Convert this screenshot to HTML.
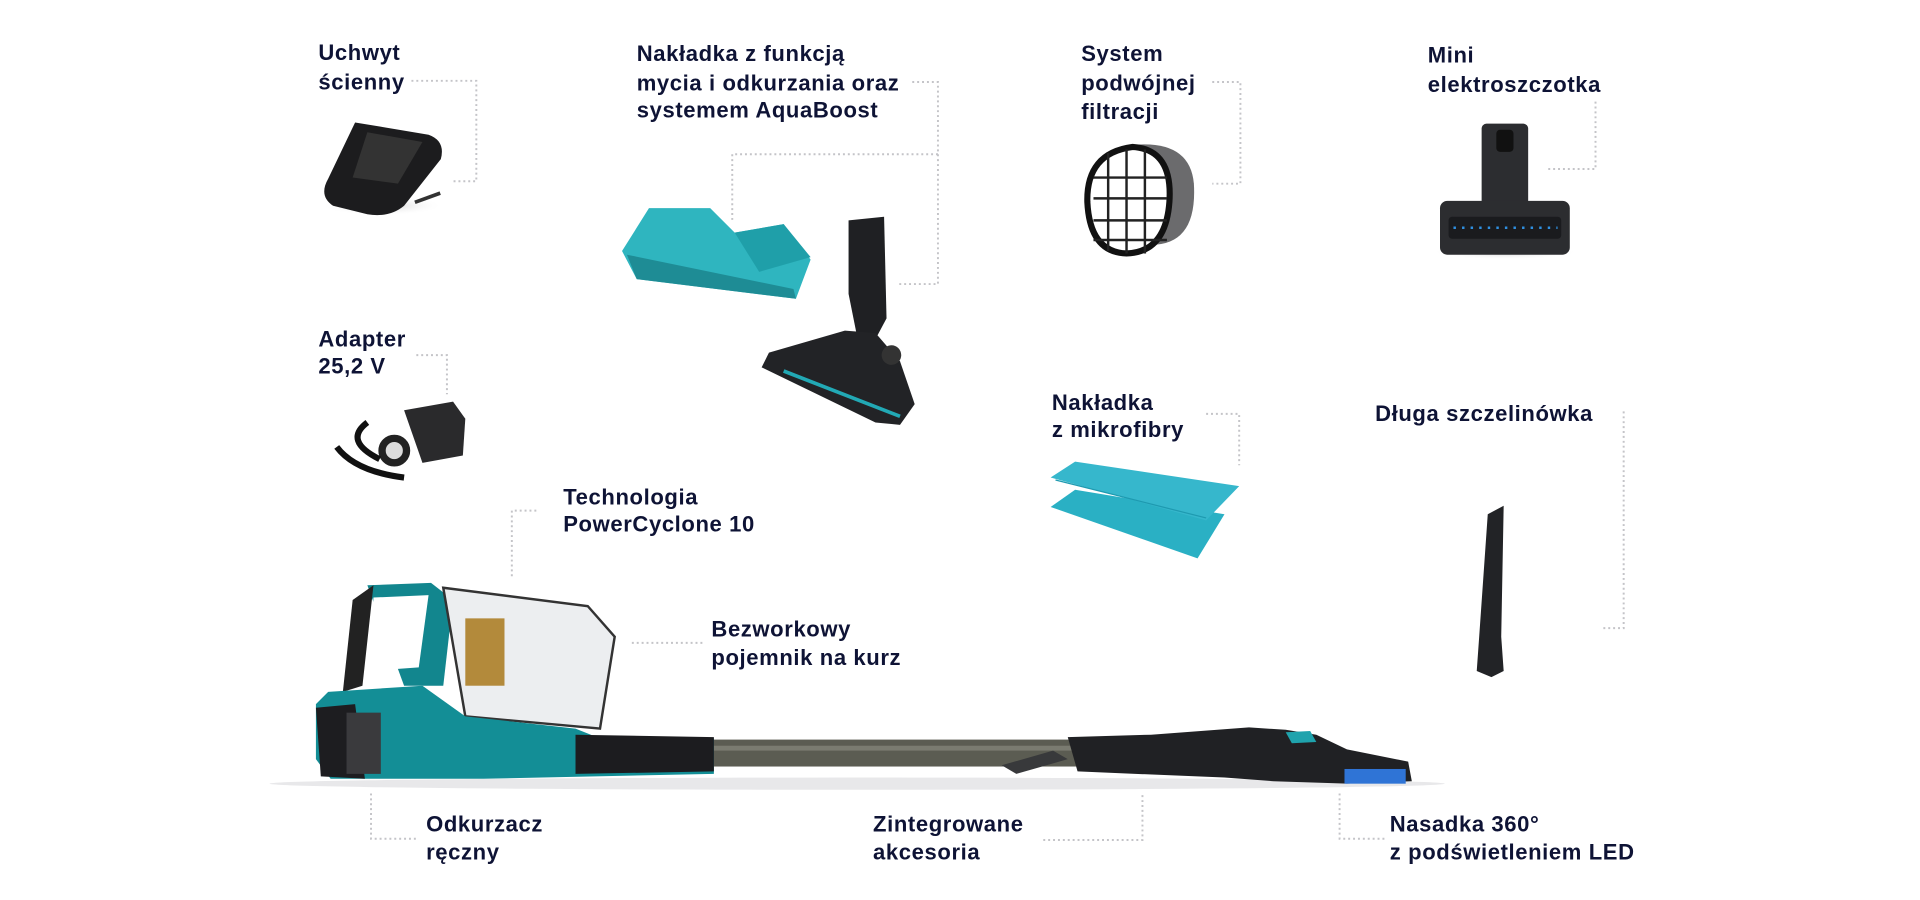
<!DOCTYPE html>
<html><head><meta charset="utf-8"><style>
html,body{margin:0;padding:0;background:#fff;width:1920px;height:900px;overflow:hidden}
svg{display:block}
text{font-family:"Liberation Sans",sans-serif;font-weight:bold;font-size:18px;letter-spacing:0.5px;fill:#0e1335}
.c{fill:none;stroke:#c4c4c8;stroke-width:1.6;stroke-dasharray:1.6 2.4}
</style></head><body>
<svg width="1920" height="900" viewBox="0 0 1568 735" xmlns="http://www.w3.org/2000/svg">
<defs>
<radialGradient id="sh" cx="50%" cy="50%" r="50%"><stop offset="0" stop-color="#ccc"/><stop offset="1" stop-color="#fff" stop-opacity="0"/></radialGradient>
</defs>
<!-- labels -->
<text x="260" y="49">Uchwyt</text><text x="260" y="73">ścienny</text>
<text x="520" y="50">Nakładka z funkcją</text><text x="520" y="74">mycia i odkurzania oraz</text><text x="520" y="96">systemem AquaBoost</text>
<text x="883" y="50">System</text><text x="883" y="74">podwójnej</text><text x="883" y="97">filtracji</text>
<text x="1166" y="51">Mini</text><text x="1166" y="75">elektroszczotka</text>
<text x="260" y="283">Adapter</text><text x="260" y="305">25,2 V</text>
<text x="859" y="335">Nakładka</text><text x="859" y="357">z mikrofibry</text>
<text x="1123" y="344">Długa szczelinówka</text>
<text x="460" y="412">Technologia</text><text x="460" y="434">PowerCyclone 10</text>
<text x="581" y="520">Bezworkowy</text><text x="581" y="543">pojemnik na kurz</text>
<text x="348" y="679">Odkurzacz</text><text x="348" y="702">ręczny</text>
<text x="713" y="679">Zintegrowane</text><text x="713" y="702">akcesoria</text>
<text x="1135" y="679">Nasadka 360°</text><text x="1135" y="702">z podświetleniem LED</text>
<!-- connectors -->
<path class="c" d="M336 66H389V148H370"/>
<path class="c" d="M745 67H766V232H733M766 126H598V180"/>
<path class="c" d="M990 67H1013V150H990"/>
<path class="c" d="M1303 83V138H1262"/>
<path class="c" d="M340 290H365V322"/>
<path class="c" d="M985 338H1012V380"/>
<path class="c" d="M1326 336V513H1308"/>
<path class="c" d="M438 417H418V472"/>
<path class="c" d="M516 525H575"/>
<path class="c" d="M303 648V685H340"/>
<path class="c" d="M852 686H933V648"/>
<path class="c" d="M1094 648V685H1131"/>
<!-- wall mount -->
<ellipse cx="312" cy="168" rx="50" ry="8" fill="url(#sh)"/>
<path d="M290 100L350 110Q364 115 360 130L330 168Q318 178 300 175L272 168Q260 160 268 146Z" fill="#1c1c1e"/>
<path d="M300 108L345 116L325 150L288 145Z" fill="#333"/>
<rect x="338" y="160" width="22" height="3" fill="#333" transform="rotate(-20 349 161)"/>
<!-- aqua -->
<path d="M508 205L530 170H580L600 190L640 183L662 212L650 244L520 228Z" fill="#2fb5bf"/>
<path d="M512 208L648 236L650 244L520 228Z" fill="#1e8c95"/>
<path d="M600 190L640 183L662 210L620 222Z" fill="#1f9fa9"/>
<!-- floor brush -->
<path d="M693 180L722 177L724 260L716 275L700 275L693 240Z" fill="#1f2023"/>
<path d="M628 288L690 270L715 272L735 295L747 330L735 347L715 345L622 300Z" fill="#222326"/>
<path d="M640 303L735 340" stroke="#22a9b5" stroke-width="3"/>
<circle cx="728" cy="290" r="8" fill="#333"/>
<!-- filter -->
<path d="M930 118Q972 116 975 150Q978 200 940 200Z" fill="#6b6b6d"/>
<path d="M925 120Q958 122 955 165Q952 206 920 207Q890 206 888 165Q887 125 925 120Z" fill="#fff" stroke="#111" stroke-width="5"/>
<g stroke="#222" stroke-width="2"><path d="M905 125V205M920 122V207M935 122V207M893 145H953M893 162H953M893 180H953M893 196H953"/></g>
<!-- mini brush -->
<ellipse cx="1229" cy="206" rx="60" ry="6" fill="url(#sh)"/>
<rect x="1210" y="101" width="38" height="70" rx="4" fill="#2c2d30"/>
<rect x="1222" y="106" width="14" height="18" rx="3" fill="#111"/>
<rect x="1176" y="164" width="106" height="44" rx="6" fill="#2c2d30"/>
<rect x="1183" y="177" width="92" height="18" rx="3" fill="#1a1b1e"/>
<path d="M1187 186H1272" stroke="#2f8fe0" stroke-width="2" stroke-dasharray="2 5"/>
<!-- adapter -->
<path d="M330 335L370 328L380 342L378 372L345 378Z" fill="#2a2a2c"/>
<circle cx="322" cy="368" r="10" fill="#ddd" stroke="#222" stroke-width="6"/>
<path d="M275 365Q290 385 330 390M300 345Q280 360 310 375" stroke="#111" stroke-width="5" fill="none"/>
<!-- microfiber -->
<path d="M858 414L878 400L1000 420L978 456Z" fill="#2ab0c4"/>
<path d="M858 390L878 377L1012 397L985 425Z" fill="#36b7cc"/>
<path d="M862 392L985 423" stroke="#1e9ab0" stroke-width="1"/>
<!-- crevice -->
<path d="M1215 420L1228 413L1226 520L1228 548L1218 553L1206 548L1208 520Z" fill="#222326"/>
<!-- main vacuum -->
<ellipse cx="700" cy="640" rx="480" ry="5" fill="#e8e8ea"/>
<rect x="575" y="604" width="305" height="22" fill="#5b5c52"/>
<rect x="575" y="609" width="305" height="4" fill="#7a7b70"/>
<path d="M300 478L352 476L370 490L362 560L330 560Z" fill="#12868e"/>
<path d="M305 488L350 486L342 545L302 548Z" fill="#fff"/>
<path d="M288 490L305 478L296 560L280 565Z" fill="#222"/>
<path d="M362 480L480 495L502 520L490 595L380 585Z" fill="#eceef0" stroke="#333" stroke-width="2"/>
<rect x="380" y="505" width="32" height="55" fill="#b38a3b"/>
<path d="M268 565L345 560L380 585L470 595L490 603L583 603L583 632L395 636L270 636L258 620L258 575Z" fill="#138e96"/>
<path d="M258 578L290 575L298 636L262 634Z" fill="#1d1d20"/>
<rect x="283" y="582" width="28" height="50" fill="#3a3a3d"/>
<path d="M470 600L583 602L583 630L470 632Z" fill="#1c1c1f"/>
<path d="M872 602L940 600L1020 594L1050 596L1075 600L1100 612L1150 622L1153 638L1100 640L1040 638L1000 635L880 630Z" fill="#202124"/>
<path d="M818 625L860 613L872 620L830 632Z" fill="#38393b"/>
<rect x="1098" y="628" width="50" height="12" fill="#2f74d6"/>
<path d="M1050 598L1070 597L1075 606L1055 607Z" fill="#1fa3ad"/>
</svg>
</body></html>
